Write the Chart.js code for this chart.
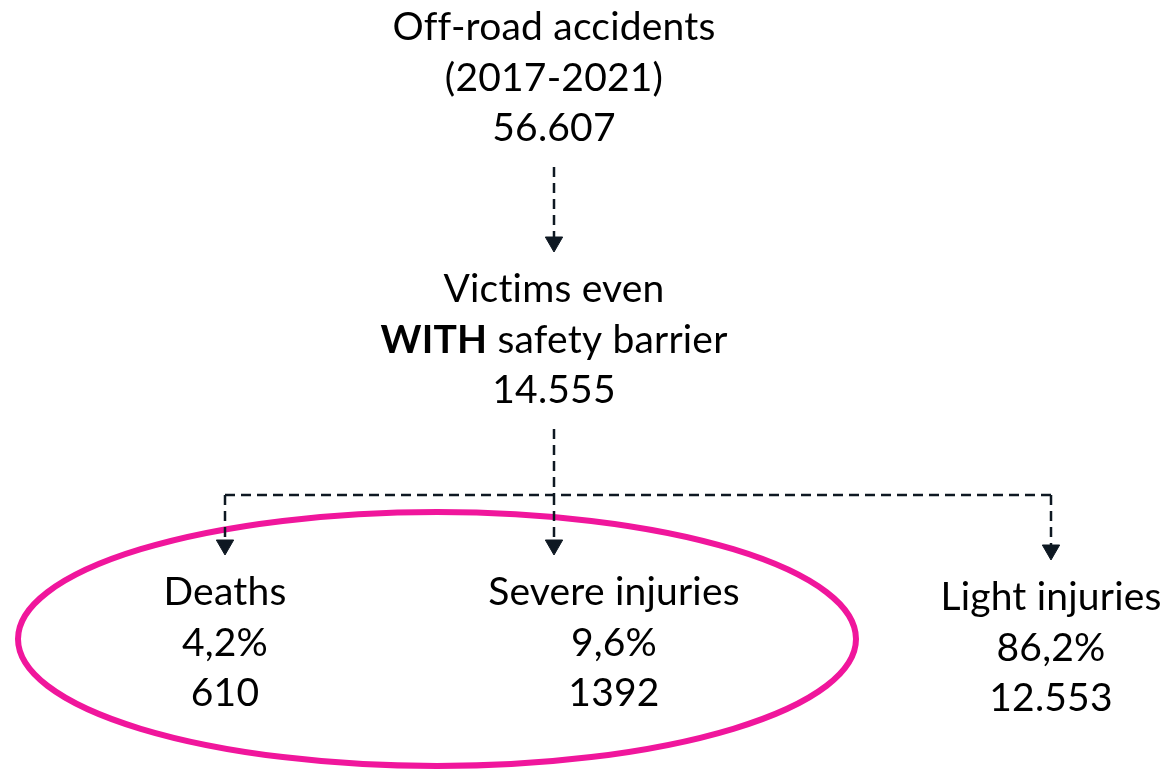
<!DOCTYPE html>
<html lang="en">
<head>
<meta charset="UTF-8">
<title>Off-road accidents</title>
<script src="https://cdn.jsdelivr.net/npm/chart.js@4.4.0/dist/chart.umd.min.js"></script>
<style>
    body { margin: 0; background: #ffffff; }
    #wrap { width: 1166px; height: 770px; position: relative; }
</style>
</head>
<body>
<div id="wrap"><canvas id="myChart"></canvas></div>

<script>
// data of the tree: titles (** marks bold), shares and totals
const nodeTitles = [
    ['Off-road accidents', '(2017-2021)'],
    ['Victims even', '**WITH** safety barrier'],
    ['Deaths'],
    ['Severe injuries'],
    ['Light injuries']
];
const nodeShares = [null, null, '4,2%', '9,6%', '86,2%'];
const nodeTotals = ['56.607', '14.555', '610', '1392', '12.553'];
const nodeParent = [null, 0, 1, 1, 1];

// layout (scale units = pixels of the canvas)
const nodeX = [554, 554, 225, 614, 1051];
const nodeY = [40, 302, 605, 605, 610];      // baseline of first line
const arrowX = [554, 554, 225, 554, 1051];   // where the arrow enters each node
const lineStep = 50.5;
const gapBelow = 26, gapAbove = 50, arrowR = 10;
const ink = '#0e1822';
const highlight = { cx: 437, cy: 639, rx: 419, ry: 127, color: '#f0169c', width: 6 };

function lastBaseline(i) {
    let n = nodeTitles[i].length + (nodeShares[i] ? 1 : 0);
    return nodeY[i] + n * lineStep;
}

// connectors built from the tree
var datasets = [];
var heads = [];
var children1 = [];
for (var i = 0; i < nodeParent.length; i++) {
    if (nodeParent[i] === null) continue;
    let p = nodeParent[i];
    let top = lastBaseline(p) + gapBelow;
    let end = nodeY[i] - gapAbove;
    heads.push({ x: arrowX[i], y: end - arrowR });
    if (p === 0) {
        datasets.push({ type: 'line', data: [{ x: arrowX[p], y: top }, { x: arrowX[i], y: end - arrowR }] });
    } else {
        children1.push({ i: i, top: top, end: end });
    }
}
// branch from node 1: trunk, horizontal bar, drops
if (children1.length) {
    let top = children1[0].top;
    let ends = children1.map(c => nodeY[c.i] - gapAbove);
    let bar = (top + Math.min(...ends)) / 2 + 3;
    let xs = children1.map(c => arrowX[c.i]);
    datasets.push({ type: 'line', data: [{ x: arrowX[1], y: top }, { x: arrowX[1], y: bar }] });
    datasets.push({ type: 'line', data: [{ x: Math.min(...xs), y: bar }, { x: Math.max(...xs), y: bar }] });
    children1.forEach(c => {
        datasets.push({ type: 'line', data: [{ x: arrowX[c.i], y: bar }, { x: arrowX[c.i], y: c.end - arrowR }] });
    });
}
datasets.forEach(d => {
    d.borderColor = ink;
    d.borderWidth = 2.5;
    d.borderDash = [10, 6];
    d.pointRadius = 0;
    d.fill = false;
});
datasets.push({
    type: 'scatter',
    data: heads,
    pointStyle: 'triangle',
    rotation: 180,
    pointRadius: arrowR,
    backgroundColor: ink,
    borderColor: ink,
    borderWidth: 1
});
// node anchors (invisible), labels are drawn from them
datasets.push({
    type: 'scatter',
    data: nodeX.map((x, k) => ({ x: x, y: nodeY[k] })),
    pointRadius: 0
});

const fontFamily = 'Lato, "Noto Sans", sans-serif';
const fontSize = 39;

function drawRich(ctx, text, cx, y) {
    let parts = text.split('**');
    let total = 0;
    parts.forEach((s, k) => {
        ctx.font = (k % 2 ? 'bold ' : '') + fontSize + 'px ' + fontFamily;
        total += ctx.measureText(s).width;
    });
    let x = cx - total / 2;
    ctx.textAlign = 'left';
    parts.forEach((s, k) => {
        ctx.font = (k % 2 ? 'bold ' : '') + fontSize + 'px ' + fontFamily;
        ctx.fillText(s, x, y);
        x += ctx.measureText(s).width;
    });
}

const treePlugin = {
    id: 'treePlugin',
    beforeDatasetsDraw(chart) {
        // highlight ellipse around the serious outcomes
        const ctx = chart.ctx, sx = chart.scales.x, sy = chart.scales.y;
        let cx = sx.getPixelForValue(highlight.cx), cy = sy.getPixelForValue(highlight.cy);
        let rx = Math.abs(sx.getPixelForValue(highlight.cx + highlight.rx) - cx);
        let ry = Math.abs(sy.getPixelForValue(highlight.cy + highlight.ry) - cy);
        ctx.save();
        ctx.beginPath();
        ctx.ellipse(cx, cy, rx, ry, 0, 0, Math.PI * 2);
        ctx.strokeStyle = highlight.color;
        ctx.lineWidth = highlight.width;
        ctx.stroke();
        ctx.restore();
    },
    afterDatasetsDraw(chart) {
        const ctx = chart.ctx, sx = chart.scales.x, sy = chart.scales.y;
        ctx.save();
        ctx.fillStyle = '#000000';
        ctx.textBaseline = 'alphabetic';
        // small spacing keeps Lato from joining "ti"
        ctx.letterSpacing = '0.2px';
        for (var i = 0; i < nodeTitles.length; i++) {
            let lines = nodeTitles[i].slice();
            if (nodeShares[i]) lines.push(nodeShares[i]);
            lines.push(nodeTotals[i]);
            let px = sx.getPixelForValue(nodeX[i]);
            lines.forEach((t, k) => {
                drawRich(ctx, t, px, sy.getPixelForValue(nodeY[i] + k * lineStep));
            });
        }
        ctx.restore();
    }
};

new Chart(document.getElementById('myChart'), {
    type: 'scatter',
    data: { datasets: datasets },
    options: {
        responsive: true,
        maintainAspectRatio: false,
        animation: false,
        layout: { padding: 0, autoPadding: false },
        plugins: { legend: { display: false }, tooltip: { enabled: false } },
        scales: {
            x: { type: 'linear', min: 0, max: 1166, display: false },
            y: { type: 'linear', min: 0, max: 770, reverse: true, display: false }
        }
    },
    plugins: [treePlugin]
});
</script>
</body>
</html>
